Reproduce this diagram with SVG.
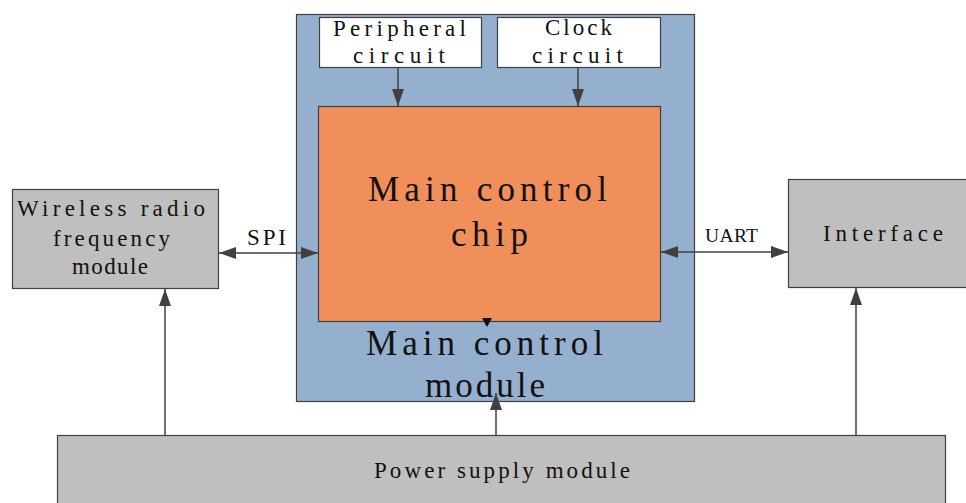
<svg xmlns="http://www.w3.org/2000/svg" width="966" height="503" viewBox="0 0 966 503">
<style>
text{font-family:"Liberation Serif","DejaVu Serif",serif;fill:#111}
.s{font-size:23px}
.l{font-size:35px}
.box{stroke:#404040;stroke-width:1.2}
.con{stroke:#404040;stroke-width:1.5;fill:none}
</style>
<defs>
<marker id="ah" viewBox="0 0 17 12" refX="17" refY="6" markerWidth="17" markerHeight="12" markerUnits="userSpaceOnUse" orient="auto-start-reverse">
<path d="M0,0 L17,6 L0,12 Z" fill="#404040"/>
</marker>
</defs>
<rect width="966" height="503" fill="#fff"/>
<g id="main-module">
<rect class="box" x="296.5" y="14.5" width="398" height="387" fill="#95AFCE"/>
<text class="l" x="366" y="355" textLength="237" lengthAdjust="spacing">Main control</text>
<text class="l" x="425" y="397" textLength="120" lengthAdjust="spacing">module</text>
</g>
<g id="peripheral">
<rect class="box" x="319.5" y="17.5" width="162" height="50" fill="#fff"/>
<text class="s" x="333" y="36" textLength="133" lengthAdjust="spacing">Peripheral</text>
<text class="s" x="353" y="63" textLength="92" lengthAdjust="spacing">circuit</text>
</g>
<g id="clock">
<rect class="box" x="497.5" y="17.5" width="163" height="50" fill="#fff"/>
<text class="s" x="545" y="35" textLength="67" lengthAdjust="spacing">Clock</text>
<text class="s" x="532" y="63" textLength="91" lengthAdjust="spacing">circuit</text>
</g>
<g id="chip">
<rect class="box" x="318.5" y="106.5" width="342" height="215" fill="#F08F5A"/>
<text class="l" x="368" y="201" textLength="239" lengthAdjust="spacing">Main control</text>
<text class="l" x="451" y="246" textLength="77" lengthAdjust="spacing">chip</text>
</g>
<g id="wireless">
<rect class="box" x="12.5" y="189.5" width="206" height="99" fill="#BFBFBF"/>
<text class="s" x="17" y="216" textLength="188" lengthAdjust="spacing">Wireless radio</text>
<text class="s" x="53" y="246" textLength="117" lengthAdjust="spacing">frequency</text>
<text class="s" x="72" y="274" textLength="76" lengthAdjust="spacing">module</text>
</g>
<g id="interface">
<rect class="box" x="788.5" y="179.5" width="180" height="108" fill="#BFBFBF"/>
<text class="s" x="823" y="241" textLength="120" lengthAdjust="spacing">Interface</text>
</g>
<g id="power">
<rect class="box" x="57.5" y="435.5" width="888" height="80" fill="#BFBFBF"/>
<text class="s" x="374" y="478" textLength="256" lengthAdjust="spacing">Power supply module</text>
</g>
<g id="connectors">
<line class="con" x1="398" y1="67" x2="398" y2="106" marker-end="url(#ah)"/>
<line class="con" x1="578" y1="67" x2="578" y2="106" marker-end="url(#ah)"/>
<line class="con" x1="219" y1="253" x2="318" y2="253" marker-start="url(#ah)" marker-end="url(#ah)"/>
<line class="con" x1="661" y1="252" x2="788" y2="252" marker-start="url(#ah)" marker-end="url(#ah)"/>
<line class="con" x1="165" y1="435" x2="165" y2="289" marker-end="url(#ah)"/>
<line class="con" x1="856" y1="435" x2="856" y2="288" marker-end="url(#ah)"/>
<line class="con" x1="496" y1="435" x2="496" y2="393" marker-end="url(#ah)"/>
<path d="M482,318 L492,318 L487,327 Z" fill="#111"/>
<text class="s" x="247" y="245" textLength="39" lengthAdjust="spacing">SPI</text>
<text x="705" y="242" style="font-size:19.5px" textLength="53" lengthAdjust="spacing">UART</text>
</g>
</svg>
